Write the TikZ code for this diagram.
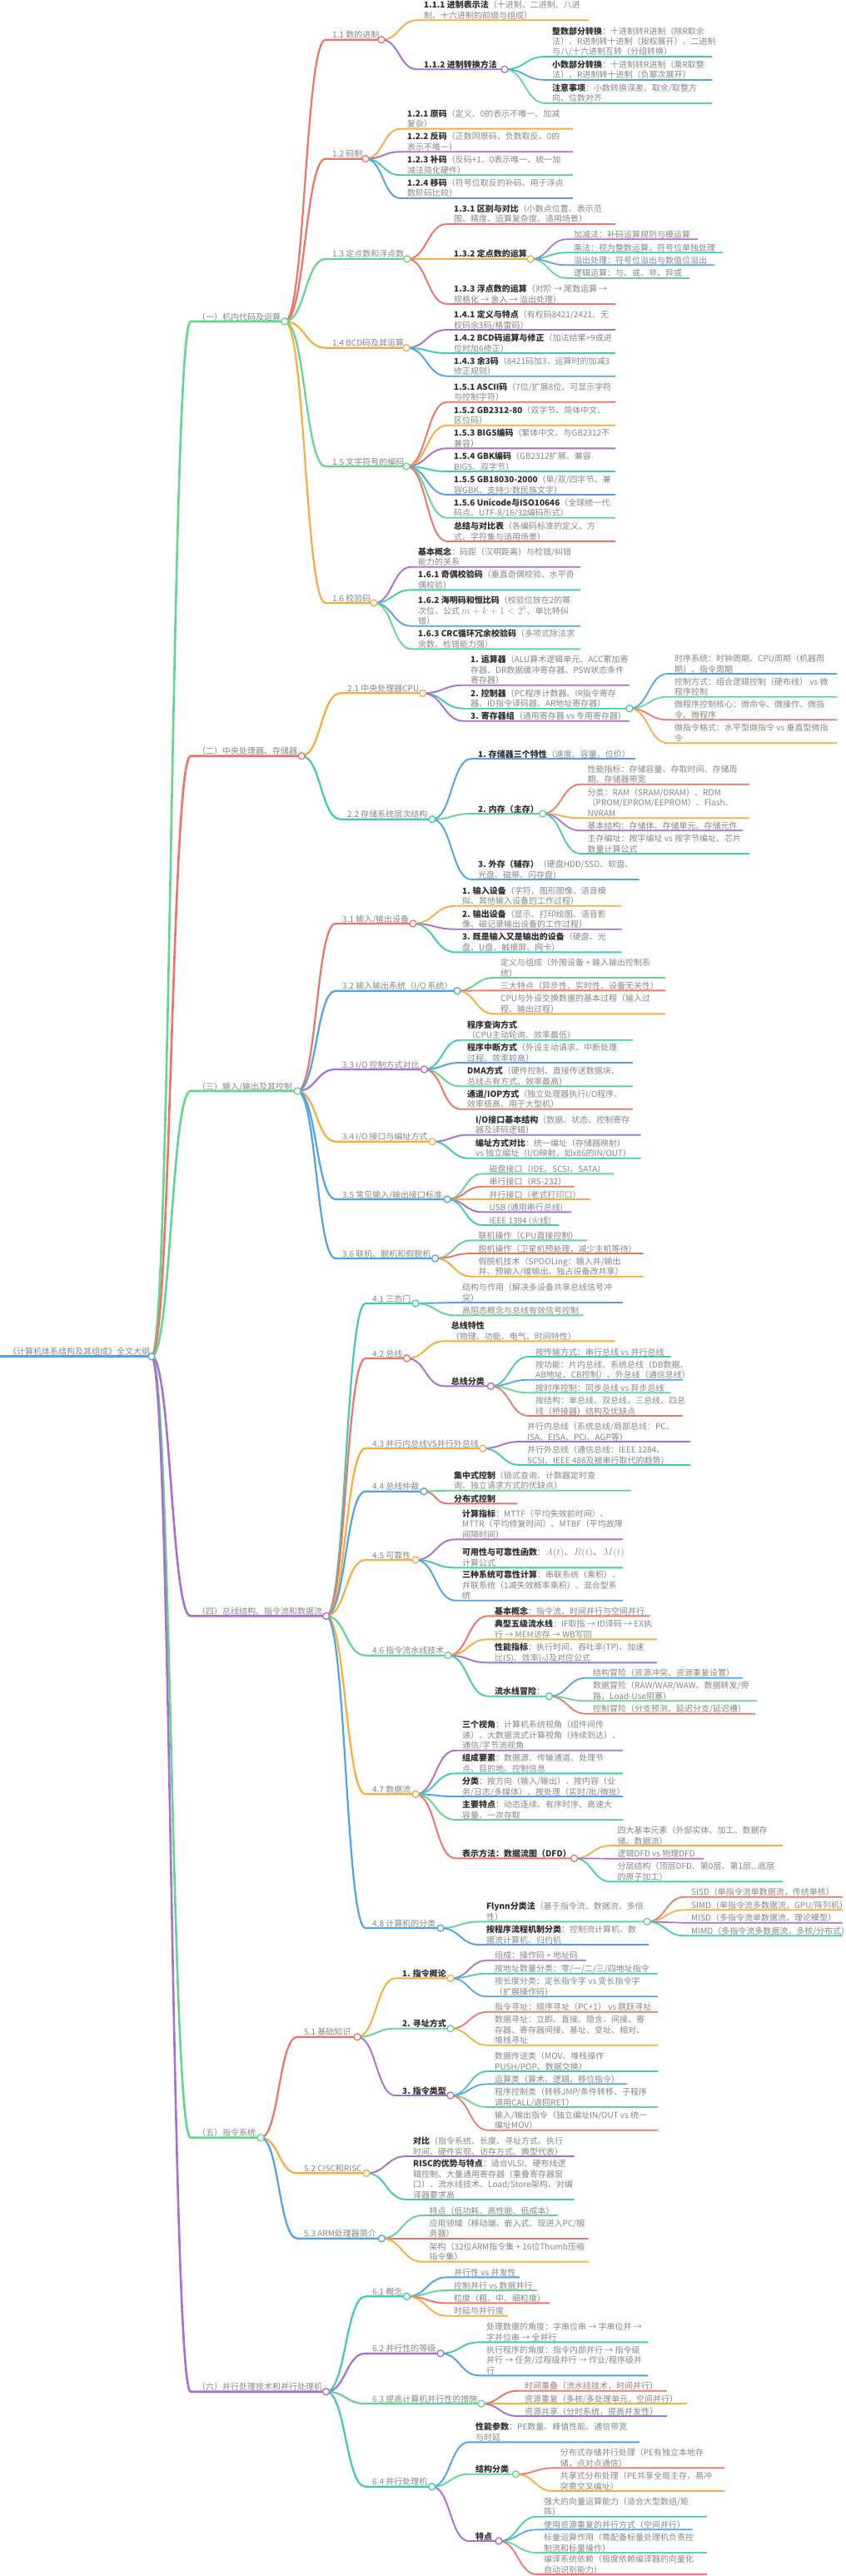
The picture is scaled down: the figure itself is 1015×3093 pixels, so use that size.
\documentclass[tikz,border=0pt]{standalone}
\usepackage{fontspec}
\setmainfont{Noto Sans CJK SC}
\usetikzlibrary{calc}
\definecolor{cR}{HTML}{EE7266}
\definecolor{cO}{HTML}{F8AC3B}
\definecolor{cP}{HTML}{A86FD0}
\definecolor{cT}{HTML}{3ECBB0}
\definecolor{cB}{HTML}{4DA3E6}
\definecolor{cG}{HTML}{62D68E}
\definecolor{tgray}{HTML}{858585}
\definecolor{tdark}{HTML}{2E2E2E}
\newcommand\B[1]{{\bfseries\color{tdark}#1}}
\newcommand\nl{\egroup\hbox\bgroup}
\newcommand\TT[1]{\vbox{\hbox\bgroup#1\egroup}}
\tikzset{lbl/.style={anchor=base west, inner sep=0pt, text=tgray, font=\fontsize{10}{12.4}\selectfont}}
% name, parent, color, linewidth, xstart, y, xend, text
\newcommand\mm[8]{%
  \coordinate (#1-s) at (#5,#6);
  \coordinate (#1-e) at (#7,#6);
  \draw[#3, line width=#4pt] let \p1=(#2-e), \p2=(#1-s) in (\p1) .. controls ({(\x1+\x2)/2},\y1) and ({(\x1+\x2)/2},\y2) .. (\p2) -- (#1-e);
  \node[lbl] (#1) at ({#5+8},{#6-2}) {\TT{#8}};
}
\newcommand\mmdot[2]{\filldraw[fill=white, draw=#2, line width=1.3pt] (#1-e) circle (4pt);}
\begin{document}
\begin{tikzpicture}[x=1pt,y=-1pt]
\useasboundingbox (0,0) rectangle (1015,3093);
\fill[white] (0,0) rectangle (1015,3093);
% root
\coordinate (root-s) at (0,1628.7);
\coordinate (root-e) at (182,1628.7);
\draw[cB, line width=3.2pt] (root-s) -- (root-e);
\node[lbl] (root) at (10,1626.7) {\TT{《计算机体系结构及其组成》全文大纲}};
% level 1
\mm{A}{root}{cG}{2.6}{229}{386}{342}{（一）机内代码及运算}
\mm{B}{root}{cR}{2.6}{229}{907.7}{362}{（二）中央处理器、存储器}
\mm{C}{root}{cG}{2.6}{229}{1310}{357}{（三）输入/输出及其控制}
\mm{D}{root}{cP}{2.6}{229}{1940.3}{391.6}{（四）总线结构、指令流和数据流}
\mm{E}{root}{cG}{2.6}{229}{2566.7}{313}{（五）指令系统}
\mm{F}{root}{cP}{2.6}{229}{2871.7}{391.6}{（六）并行处理技术和并行处理机}
% ===== A
\mm{a11}{A}{cR}{2.2}{391}{47.7}{458}{1.1 数的进制}
\mm{a12}{A}{cR}{2.2}{391}{190.7}{439}{1.2 码制}
\mm{a13}{A}{cG}{2.2}{391}{311}{489}{1.3 定点数和浮点数}
\mm{a14}{A}{cO}{2.2}{391}{417.7}{488}{1.4 BCD码及其运算}
\mm{a15}{A}{cG}{2.2}{391}{560}{488}{1.5 文字符号的编码}
\mm{a16}{A}{cO}{2.2}{391}{724}{449}{1.6 校验码}
\mm{a111}{a11}{cO}{1.9}{501}{24.3}{707}{\B{1.1.1 进制表示法}（十进制、二进制、八进\nl 制、十六进制的前缀与组成）}
\mm{a112}{a11}{cP}{1.9}{501}{83.3}{606}{\B{1.1.2 进制转换方法}}
\mm{a1121}{a112}{cT}{1.7}{655}{68}{855}{\B{整数部分转换}：十进制转R进制（除R取余\nl 法）、R进制转十进制（按权展开）、二进制\nl 与八/十六进制互转（分组转换）}
\mm{a1122}{a112}{cB}{1.7}{655}{96}{855}{\B{小数部分转换}：十进制转R进制（乘R取整\nl 法）、R进制转十进制（负幂次展开）}
\mm{a1123}{a112}{cG}{1.7}{655}{124}{855}{\B{注意事项}：小数转换误差、取余/取整方\nl 向、位数对齐}
\mm{a121}{a12}{cO}{1.9}{481}{154.7}{688}{\B{1.2.1 原码}（定义、0的表示不唯一、加减\nl 复杂）}
\mm{a122}{a12}{cP}{1.9}{481}{182.3}{688}{\B{1.2.2 反码}（正数同原码，负数取反、0的\nl 表示不唯一）}
\mm{a123}{a12}{cT}{1.9}{481}{210.3}{688}{\B{1.2.3 补码}（反码+1、0表示唯一、统一加\nl 减法简化硬件）}
\mm{a124}{a12}{cB}{1.9}{481}{238}{688}{\B{1.2.4 移码}（符号位取反的补码、用于浮点\nl 数阶码比较）}
\mm{a131}{a13}{cR}{1.9}{537}{269}{739}{\B{1.3.1 区别与对比}（小数点位置、表示范\nl 围、精度、运算复杂度、适用场景）}
\mm{a132}{a13}{cO}{1.9}{537}{311}{637}{\B{1.3.2 定点数的运算}}
\mm{a1321}{a132}{cP}{1.7}{681}{287.3}{838}{加减法：补码运算规则与模运算}
\mm{a1322}{a132}{cT}{1.7}{681}{303.3}{868}{乘法：视为整数运算，符号位单独处理}
\mm{a1323}{a132}{cB}{1.7}{681}{318.3}{858}{溢出处理：符号位溢出与数值位溢出}
\mm{a1324}{a132}{cG}{1.7}{681}{334}{828}{逻辑运算：与、或、非、异或}
\mm{a133}{a13}{cR}{1.9}{537}{365}{739}{\B{1.3.3 浮点数的运算}（对阶 → 尾数运算 →\nl 规格化 → 舍入 → 溢出处理）}
\mm{a141}{a14}{cP}{1.9}{537}{396}{739}{\B{1.4.1 定义与特点}（有权码8421/2421、无\nl 权码余3码/格雷码）}
\mm{a142}{a14}{cT}{1.9}{537}{424}{739}{\B{1.4.2 BCD码运算与修正}（加法结果>9或进\nl 位时加6修正）}
\mm{a143}{a14}{cB}{1.9}{537}{451.7}{739}{\B{1.4.3 余3码}（8421码加3，运算时的加减3\nl 修正规则）}
\mm{a151}{a15}{cR}{1.9}{537}{482.7}{739}{\B{1.5.1 ASCII码}（7位/扩展8位、可显示字符\nl 与控制字符）}
\mm{a152}{a15}{cO}{1.9}{537}{510.7}{739}{\B{1.5.2 GB2312-80}（双字节、简体中文、\nl 区位码）}
\mm{a153}{a15}{cP}{1.9}{537}{538.3}{739}{\B{1.5.3 BIG5编码}（繁体中文、与GB2312不\nl 兼容）}
\mm{a154}{a15}{cT}{1.9}{537}{566}{739}{\B{1.5.4 GBK编码}（GB2312扩展、兼容\nl BIG5、双字节）}
\mm{a155}{a15}{cB}{1.9}{537}{594}{739}{\B{1.5.5 GB18030-2000}（单/双/四字节、兼\nl 容GBK、支持少数民族文字）}
\mm{a156}{a15}{cG}{1.9}{537}{621.7}{739}{\B{1.5.6 Unicode与ISO10646}（全球统一代\nl 码点、UTF-8/16/32编码形式）}
\mm{a157}{a15}{cR}{1.9}{537}{650}{739}{\B{总结与对比表}（各编码标准的定义、方\nl 式、字符集与适用场景）}
\mm{a160}{a16}{cP}{1.9}{494}{680.7}{697}{\B{基本概念}：码距（汉明距离）与检错/纠错\nl 能力的关系}
\mm{a161}{a16}{cT}{1.9}{494}{708.3}{697}{\B{1.6.1 奇偶校验码}（垂直奇偶校验、水平奇\nl 偶校验）}
\mm{a162}{a16}{cB}{1.9}{494}{751.7}{697}{\B{1.6.2 海明码和恒比码}（校验位放在2的幂\nl 次位、公式 {\large$m+k+1<2^k$}、单比特纠\nl 错）}
\mm{a163}{a16}{cG}{1.9}{494}{779.3}{697}{\B{1.6.3 CRC循环冗余校验码}（多项式除法求\nl 余数、检错能力强）}
% ===== B
\mm{b21}{B}{cO}{2.2}{409}{832.3}{507.5}{2.1 中央处理器CPU}
\mm{b211}{b21}{cP}{1.9}{557}{822.7}{756}{\B{1. 运算器}（ALU算术逻辑单元、ACC累加寄\nl 存器、DR数据缓冲寄存器、PSW状态条件\nl 寄存器）}
\mm{b212}{b21}{cT}{1.9}{557}{850.7}{756}{\B{2. 控制器}（PC程序计数器、IR指令寄存\nl 器、ID指令译码器、AR地址寄存器）}
\mm{b2121}{b212}{cB}{1.7}{802}{809}{1005}{时序系统：时钟周期、CPU周期（机器周\nl 期）、指令周期}
\mm{b2122}{b212}{cG}{1.7}{802}{836.7}{1005}{控制方式：组合逻辑控制（硬布线） vs 微\nl 程序控制}
\mm{b2123}{b212}{cR}{1.7}{802}{864.3}{1005}{微程序控制核心：微命令、微操作、微指\nl 令、微程序}
\mm{b2124}{b212}{cO}{1.7}{802}{892.3}{1005}{微指令格式：水平型微指令 vs 垂直型微指\nl 令}
\mm{b213}{b21}{cP}{1.9}{557}{865.7}{756}{\B{3. 寄存器组}（通用寄存器 vs 专用寄存器）}
\mm{b22}{B}{cT}{2.2}{409}{983.7}{519}{2.2 存储系统层次结构}
\mm{b221}{b22}{cB}{1.9}{566}{911}{763}{\B{1. 存储器三个特性}（速度、容量、位价）}
\mm{b222}{b22}{cG}{1.9}{566}{977}{651.6}{\B{2. 内存（主存）}}
\mm{b2221}{b222}{cR}{1.7}{697.5}{941.7}{900}{性能指标：存储容量、存取时间、存储周\nl 期、存储器带宽}
\mm{b2222}{b222}{cO}{1.7}{697.5}{982.3}{900}{分类：RAM（SRAM/DRAM）、ROM\nl （PROM/EPROM/EEPROM）、Flash、\nl NVRAM}
\mm{b2223}{b222}{cP}{1.7}{697.5}{997.3}{892}{基本结构：存储体、存储单元、存储元件}
\mm{b2224}{b222}{cT}{1.7}{697.5}{1025}{900}{主存编址：按字编址 vs 按字节编址、芯片\nl 数量计算公式}
\mm{b223}{b22}{cB}{1.9}{566}{1056}{767.5}{\B{3. 外存（辅存）}（硬盘HDD/SSD、软盘、\nl 光盘、磁带、闪存盘）}
% ===== C
\mm{c31}{C}{cR}{2.2}{403}{1109}{496}{3.1 输入/输出设备}
\mm{c311}{c31}{cO}{1.9}{547}{1087.7}{746.5}{\B{1. 输入设备}（字符、图形图像、语音模\nl 拟、其他输入设备的工作过程）}
\mm{c312}{c31}{cP}{1.9}{547}{1115.7}{746.5}{\B{2. 输出设备}（显示、打印绘图、语音影\nl 像、磁记录输出设备的工作过程）}
\mm{c313}{c31}{cT}{1.9}{547}{1143.3}{746.5}{\B{3. 既是输入又是输出的设备}（硬盘、光\nl 盘、U盘、触摸屏、网卡）}
\mm{c32}{C}{cB}{2.2}{403}{1189.7}{549}{3.2 输入输出系统（I/O 系统）}
\mm{c321}{c32}{cG}{1.9}{593}{1174}{799}{定义与组成（外围设备 + 输入输出控制系\nl 统）}
\mm{c322}{c32}{cR}{1.9}{593}{1189.3}{799}{三大特点（异步性、实时性、设备无关性）}
\mm{c323}{c32}{cO}{1.9}{593}{1217.3}{799}{CPU与外设交换数据的基本过程（输入过\nl 程、输出过程）}
\mm{c33}{C}{cP}{2.2}{403}{1284}{509.5}{3.3 I/O 控制方式对比}
\mm{c331}{c33}{cT}{1.9}{553}{1248.7}{760}{\B{程序查询方式}\nl （CPU主动轮询、效率最低）}
\mm{c332}{c33}{cB}{1.9}{553}{1276}{760}{\B{程序中断方式}（外设主动请求、中断处理\nl 过程、效率较高）}
\mm{c333}{c33}{cG}{1.9}{553}{1304.3}{760}{\B{DMA方式}（硬件控制、直接传送数据块、\nl 总线占有方式、效率最高）}
\mm{c334}{c33}{cR}{1.9}{553}{1331.7}{760}{\B{通道/IOP方式}（独立处理器执行I/O程序、\nl 效率极高、用于大型机）}
\mm{c34}{C}{cO}{2.2}{403}{1370.7}{519}{3.4 I/O 接口与编址方式}
\mm{c341}{c34}{cP}{1.9}{563}{1362.7}{769.5}{\B{I/O接口基本结构}（数据、状态、控制寄存\nl 器及译码逻辑）}
\mm{c342}{c34}{cT}{1.9}{563}{1390.7}{769.5}{\B{编址方式对比}：统一编址（存储器映射）\nl vs 独立编址（I/O映射，如x86的IN/OUT）}
\mm{c35}{C}{cB}{2.2}{403}{1440}{537}{3.5 常见输入/输出接口标准}
\mm{c351}{c35}{cG}{1.9}{579.5}{1409.3}{737}{磁盘接口（IDE、SCSI、SATA）}
\mm{c352}{c35}{cR}{1.9}{579.5}{1424.7}{689.6}{串行接口（RS-232）}
\mm{c353}{c35}{cO}{1.9}{579.5}{1440}{708.6}{并行接口（老式打印口）}
\mm{c354}{c35}{cP}{1.9}{579.5}{1455.3}{686}{USB (通用串行总线)}
\mm{c355}{c35}{cT}{1.9}{579.5}{1471}{671}{IEEE 1394 (火线)}
\mm{c36}{C}{cB}{2.2}{403}{1511}{522.6}{3.6 联机、脱机和假脱机}
\mm{c361}{c36}{cG}{1.9}{566.5}{1489.3}{705}{联机操作（CPU直接控制）}
\mm{c362}{c36}{cR}{1.9}{566.5}{1505}{772.7}{脱机操作（卫星机预处理，减少主机等待）}
\mm{c363}{c36}{cO}{1.9}{566.5}{1532.7}{772.7}{假脱机技术（SPOOLing：输入井/输出\nl 井、预输入/缓输出、独占设备改共享）}
% ===== D
\mm{d41}{D}{cT}{2.2}{439}{1565}{499}{4.1 三态门}
\mm{d411}{d41}{cB}{1.9}{547}{1564}{748}{结构与作用（解决多设备共享总线信号冲\nl 突）}
\mm{d412}{d41}{cG}{1.9}{547}{1579.3}{700.7}{高阻态概念与总线有效信号控制}
\mm{d42}{D}{cR}{2.2}{439}{1631}{488.5}{4.2 总线}
\mm{d421}{d42}{cO}{1.9}{533.7}{1610.3}{738.7}{\B{总线特性}\nl （物理、功能、电气、时间特性）}
\mm{d422}{d42}{cP}{1.9}{533.7}{1664.3}{589.4}{\B{总线分类}}
\mm{d4221}{d422}{cT}{1.7}{635}{1629}{805.5}{按传输方式：串行总线 vs 并行总线}
\mm{d4222}{d422}{cB}{1.7}{635}{1656.7}{820}{按功能：片内总线、系统总线（DB数据、\nl AB地址、CB控制）、外总线（通信总线）}
\mm{d4223}{d422}{cG}{1.7}{635}{1672.3}{805.5}{按时序控制：同步总线 vs 异步总线}
\mm{d4224}{d422}{cR}{1.7}{635}{1700}{820}{按结构：单总线、双总线、三总线、四总\nl 线（桥接器）结构及优缺点}
\mm{d43}{D}{cO}{2.2}{439}{1739}{579.6}{4.3 并行内总线VS并行外总线}
\mm{d431}{d43}{cP}{1.9}{625}{1731}{829}{并行内总线（系统总线/局部总线：PC、\nl ISA、EISA、PCI、AGP等）}
\mm{d432}{d43}{cT}{1.9}{625}{1759}{829}{并行外总线（通信总线：IEEE 1284、\nl SCSI、IEEE 488及被串行取代的趋势）}
\mm{d44}{D}{cB}{2.2}{439}{1790.7}{509}{4.4 总线仲裁}
\mm{d441}{d44}{cG}{1.9}{537}{1789.7}{758}{\B{集中式控制}（链式查询、计数器定时查\nl 询、独立请求方式的优缺点）}
\mm{d442}{d44}{cR}{1.9}{537}{1805.3}{621}{\B{分布式控制}}
\mm{d45}{D}{cO}{2.2}{439}{1873}{499}{4.5 可靠性}
\mm{d451}{d45}{cP}{1.9}{547}{1848.3}{748}{\B{计算指标}：MTTF（平均失效前时间）、\nl MTTR（平均修复时间）、MTBF（平均故障\nl 间隔时间）}
\mm{d452}{d45}{cT}{1.9}{547}{1882.3}{748}{\B{可用性与可靠性函数}：{\large$A(t)$、$R(t)$、$M(t)$}\nl 计算公式}
\mm{d453}{d45}{cB}{1.9}{547}{1921.7}{748}{\B{三种系统可靠性计算}：串联系统（乘积）、\nl 并联系统（1减失效概率乘积）、混合型系\nl 统}
\mm{d46}{D}{cG}{2.2}{439}{1987.7}{538}{4.6 指令流水线技术}
\mm{d461}{d46}{cR}{1.9}{586}{1940.3}{780.6}{\B{基本概念}：指令流、时间并行与空间并行}
\mm{d462}{d46}{cO}{1.9}{586}{1968.3}{789}{\B{典型五级流水线}：IF取指 → ID译码 → EX执\nl 行 → MEM访存 → WB写回}
\mm{d463}{d46}{cP}{1.9}{586}{1996.3}{789}{\B{性能指标}：执行时间、吞吐率(TP)、加速\nl 比(S)、效率($\eta$)及对应公式}
\mm{d464}{d46}{cT}{1.9}{586}{2036.7}{659.5}{\B{流水线冒险}：}
\mm{d4641}{d464}{cB}{1.7}{704}{2014.7}{892}{结构冒险（资源冲突、资源重复设置）}
\mm{d4642}{d464}{cG}{1.7}{704}{2042.3}{909}{数据冒险（RAW/WAR/WAW、数据转发/旁\nl 路、Load-Use阻塞）}
\mm{d4643}{d464}{cR}{1.7}{704}{2057.7}{907}{控制冒险（分支预测、延迟分支/延迟槽）}
\mm{d47}{D}{cO}{2.2}{439}{2154.3}{499}{4.7 数据流}
\mm{d471}{d47}{cP}{1.9}{547}{2101.7}{748}{\B{三个视角}：计算机系统视角（组件间传\nl 递）、大数据流式计算视角（持续到达）、\nl 通信/字节流视角}
\mm{d472}{d47}{cT}{1.9}{547}{2129.3}{748}{\B{组成要素}：数据源、传输通道、处理节\nl 点、目的地、控制信息}
\mm{d473}{d47}{cB}{1.9}{547}{2157}{748}{\B{分类}：按方向（输入/输出）、按内容（业\nl 务/日志/多媒体）、按处理（实时/批/微批）}
\mm{d474}{d47}{cG}{1.9}{547}{2185}{748}{\B{主要特点}：动态连续、有序时序、高速大\nl 容量、一次存取}
\mm{d475}{d47}{cR}{1.9}{547}{2231.3}{689.6}{\B{表示方法：数据流图（DFD）}}
\mm{d4751}{d475}{cO}{1.7}{733.5}{2216}{940}{四大基本元素（外部实体、加工、数据存\nl 储、数据流）}
\mm{d4752}{d475}{cP}{1.7}{733.5}{2231.7}{845}{逻辑DFD vs 物理DFD}
\mm{d4753}{d475}{cT}{1.7}{733.5}{2259.3}{940}{分层结构（顶层DFD、第0层、第1层...底层\nl 的原子加工）}
\mm{d48}{D}{cB}{2.2}{439}{2315}{529}{4.8 计算机的分类}
\mm{d481}{d48}{cG}{1.9}{576}{2307.3}{777}{\B{Flynn分类法}（基于指令流、数据流、多倍\nl 性）}
\mm{d4811}{d481}{cR}{1.7}{822}{2277.7}{1012}{SISD（单指令流单数据流，传统单核）}
\mm{d4812}{d481}{cO}{1.7}{822}{2293.3}{1012}{SIMD（单指令流多数据流，GPU/阵列机）}
\mm{d4813}{d481}{cP}{1.7}{822}{2308.7}{1012}{MISD（多指令流单数据流，理论模型）}
\mm{d4814}{d481}{cT}{1.7}{822}{2324.3}{1012}{MIMD（多指令流多数据流，多核/分布式）}
\mm{d482}{d48}{cB}{1.9}{576}{2335}{779}{\B{按程序流程机制分类}：控制流计算机、数\nl 据流计算机、归约机}
% ===== E
\mm{e51}{E}{cR}{2.2}{357}{2445.7}{429}{5.1 基础知识}
\mm{e511}{e51}{cO}{1.9}{475}{2375.3}{541}{\B{1. 指令概论}}
\mm{e5111}{e511}{cP}{1.7}{586}{2353.7}{704}{组成：操作码 + 地址码}
\mm{e5112}{e511}{cT}{1.7}{586}{2369.7}{790}{按地址数量分类：零/一/二/三/四地址指令}
\mm{e5113}{e511}{cB}{1.7}{586}{2397.3}{790}{按长度分类：定长指令字 vs 变长指令字\nl （扩展操作码）}
\mm{e512}{e51}{cG}{1.9}{475}{2435.7}{541}{\B{2. 寻址方式}}
\mm{e5121}{e512}{cR}{1.7}{586}{2415.7}{790}{指令寻址：顺序寻址（PC+1） vs 跳跃寻址}
\mm{e5122}{e512}{cO}{1.7}{586}{2455.7}{790}{数据寻址：立即、直接、隐含、间接、寄\nl 存器、寄存器间接、基址、变址、相对、\nl 堆栈寻址}
\mm{e513}{e51}{cP}{1.9}{475}{2516}{541}{\B{3. 指令类型}}
\mm{e5131}{e513}{cT}{1.7}{586}{2487}{790}{数据传送类（MOV、堆栈操作\nl PUSH/POP、数据交换）}
\mm{e5132}{e513}{cB}{1.7}{586}{2502.3}{753}{运算类（算术、逻辑、移位指令）}
\mm{e5133}{e513}{cG}{1.7}{586}{2530}{790}{程序控制类（转移JMP/条件转移、子程序\nl 调用CALL/返回RET）}
\mm{e5134}{e513}{cR}{1.7}{586}{2557.7}{790}{输入/输出指令（独立编址IN/OUT vs 统一\nl 编址MOV）}
\mm{e52}{E}{cO}{2.2}{357}{2609.3}{440}{5.2 CISC和RISC}
\mm{e521}{e52}{cP}{1.9}{488}{2589}{689.6}{\B{对比}（指令系统、长度、寻址方式、执行\nl 时间、硬件实现、访存方式、典型代表）}
\mm{e522}{e52}{cT}{1.9}{488}{2641}{689.6}{\B{RISC的优势与特点}：适合VLSI、硬布线逻\nl 辑控制、大量通用寄存器（重叠寄存器窗\nl 口）、流水线技术、Load/Store架构、对编\nl 译器要求高}
\mm{e53}{E}{cB}{2.2}{357}{2687.7}{458.4}{5.3 ARM处理器简介}
\mm{e531}{e53}{cG}{1.9}{507.5}{2660}{670}{特点（低功耗、高性能、低成本）}
\mm{e532}{e53}{cR}{1.9}{507.5}{2687.7}{707}{应用领域（移动端、嵌入式、现进入PC/服\nl 务器）}
\mm{e533}{e53}{cO}{1.9}{507.5}{2715.7}{707}{架构（32位ARM指令集 + 16位Thumb压缩\nl 指令集）}
% ===== F
\mm{f61}{F}{cT}{2.2}{439}{2757.3}{488.5}{6.1 概念}
\mm{f611}{f61}{cB}{1.9}{537}{2734.3}{624}{并行性 vs 并发性}
\mm{f612}{f61}{cG}{1.9}{537}{2750}{645}{控制并行 vs 数据并行}
\mm{f613}{f61}{cR}{1.9}{537}{2765.3}{660}{粒度（粗、中、细粒度）}
\mm{f614}{f61}{cO}{1.9}{537}{2780.7}{610}{时延与并行度}
\mm{f62}{F}{cP}{2.2}{439}{2825.7}{529}{6.2 并行性的等级}
\mm{f621}{f62}{cT}{1.9}{576}{2812.3}{778}{处理数据的角度：字串位串 → 字串位并 →\nl 字并位串 → 全并行}
\mm{f622}{f62}{cB}{1.9}{576}{2852.3}{778}{执行程序的角度：指令内部并行 → 指令级\nl 并行 → 任务/过程级并行 → 作业/程序级并\nl 行}
\mm{f63}{F}{cG}{2.2}{439}{2886}{578}{6.3 提高计算机并行性的措施}
\mm{f631}{f63}{cR}{1.9}{622}{2870.7}{801}{时间重叠（流水线技术，时间并行）}
\mm{f632}{f63}{cO}{1.9}{622}{2886}{825}{资源重复（多核/多处理单元，空间并行）}
\mm{f633}{f63}{cP}{1.9}{622}{2901}{801}{资源共享（分时系统，提高并发性）}
\mm{f64}{F}{cT}{2.2}{439}{2985.7}{518.7}{6.4 并行处理机}
\mm{f641}{f64}{cB}{1.9}{563}{2932.3}{768}{\B{性能参数}：PE数量、峰值性能、通信带宽\nl 与时延}
\mm{f642}{f64}{cG}{1.9}{563}{2970.7}{619.5}{\B{结构分类}}
\mm{f6421}{f642}{cR}{1.7}{664.7}{2963.3}{870}{分布式存储并行处理（PE有独立本地存\nl 储，点对点通信）}
\mm{f6422}{f642}{cO}{1.7}{664.7}{2991}{870}{共享式分布处理（PE共享全局主存，易冲\nl 突需交叉编址）}
\mm{f643}{f64}{cP}{1.9}{563}{3051}{599}{\B{特点}}
\mm{f6431}{f643}{cT}{1.7}{645}{3021.7}{849}{强大的向量运算能力（适合大型数组/矩\nl 阵）}
\mm{f6432}{f643}{cB}{1.7}{645}{3037.3}{831.7}{使用资源重复的并行方式（空间并行）}
\mm{f6433}{f643}{cG}{1.7}{645}{3065}{849}{标量运算作用（需配备标量处理机负责控\nl 制流和标量操作）}
\mm{f6434}{f643}{cR}{1.7}{645}{3091}{849}{编译系统依赖（极度依赖编译器的向量化\nl 自动识别能力）}
% ===== dots
\mmdot{root}{cB}
\mmdot{A}{cG}\mmdot{B}{cR}\mmdot{C}{cG}\mmdot{D}{cP}\mmdot{E}{cG}\mmdot{F}{cP}
\mmdot{a11}{cR}\mmdot{a112}{cP}\mmdot{a12}{cR}\mmdot{a13}{cG}\mmdot{a132}{cO}\mmdot{a14}{cO}\mmdot{a15}{cG}\mmdot{a16}{cO}
\mmdot{b21}{cO}\mmdot{b212}{cT}\mmdot{b22}{cT}\mmdot{b222}{cG}
\mmdot{c31}{cR}\mmdot{c32}{cB}\mmdot{c33}{cP}\mmdot{c34}{cO}\mmdot{c35}{cB}\mmdot{c36}{cB}
\mmdot{d41}{cT}\mmdot{d42}{cR}\mmdot{d422}{cP}\mmdot{d43}{cO}\mmdot{d44}{cB}\mmdot{d45}{cO}\mmdot{d46}{cG}\mmdot{d464}{cT}\mmdot{d47}{cO}\mmdot{d475}{cR}\mmdot{d48}{cB}\mmdot{d481}{cG}
\mmdot{e51}{cR}\mmdot{e511}{cO}\mmdot{e512}{cG}\mmdot{e513}{cP}\mmdot{e52}{cO}\mmdot{e53}{cB}
\mmdot{f61}{cT}\mmdot{f62}{cP}\mmdot{f63}{cG}\mmdot{f64}{cT}\mmdot{f642}{cG}\mmdot{f643}{cP}
\end{tikzpicture}
\end{document}
